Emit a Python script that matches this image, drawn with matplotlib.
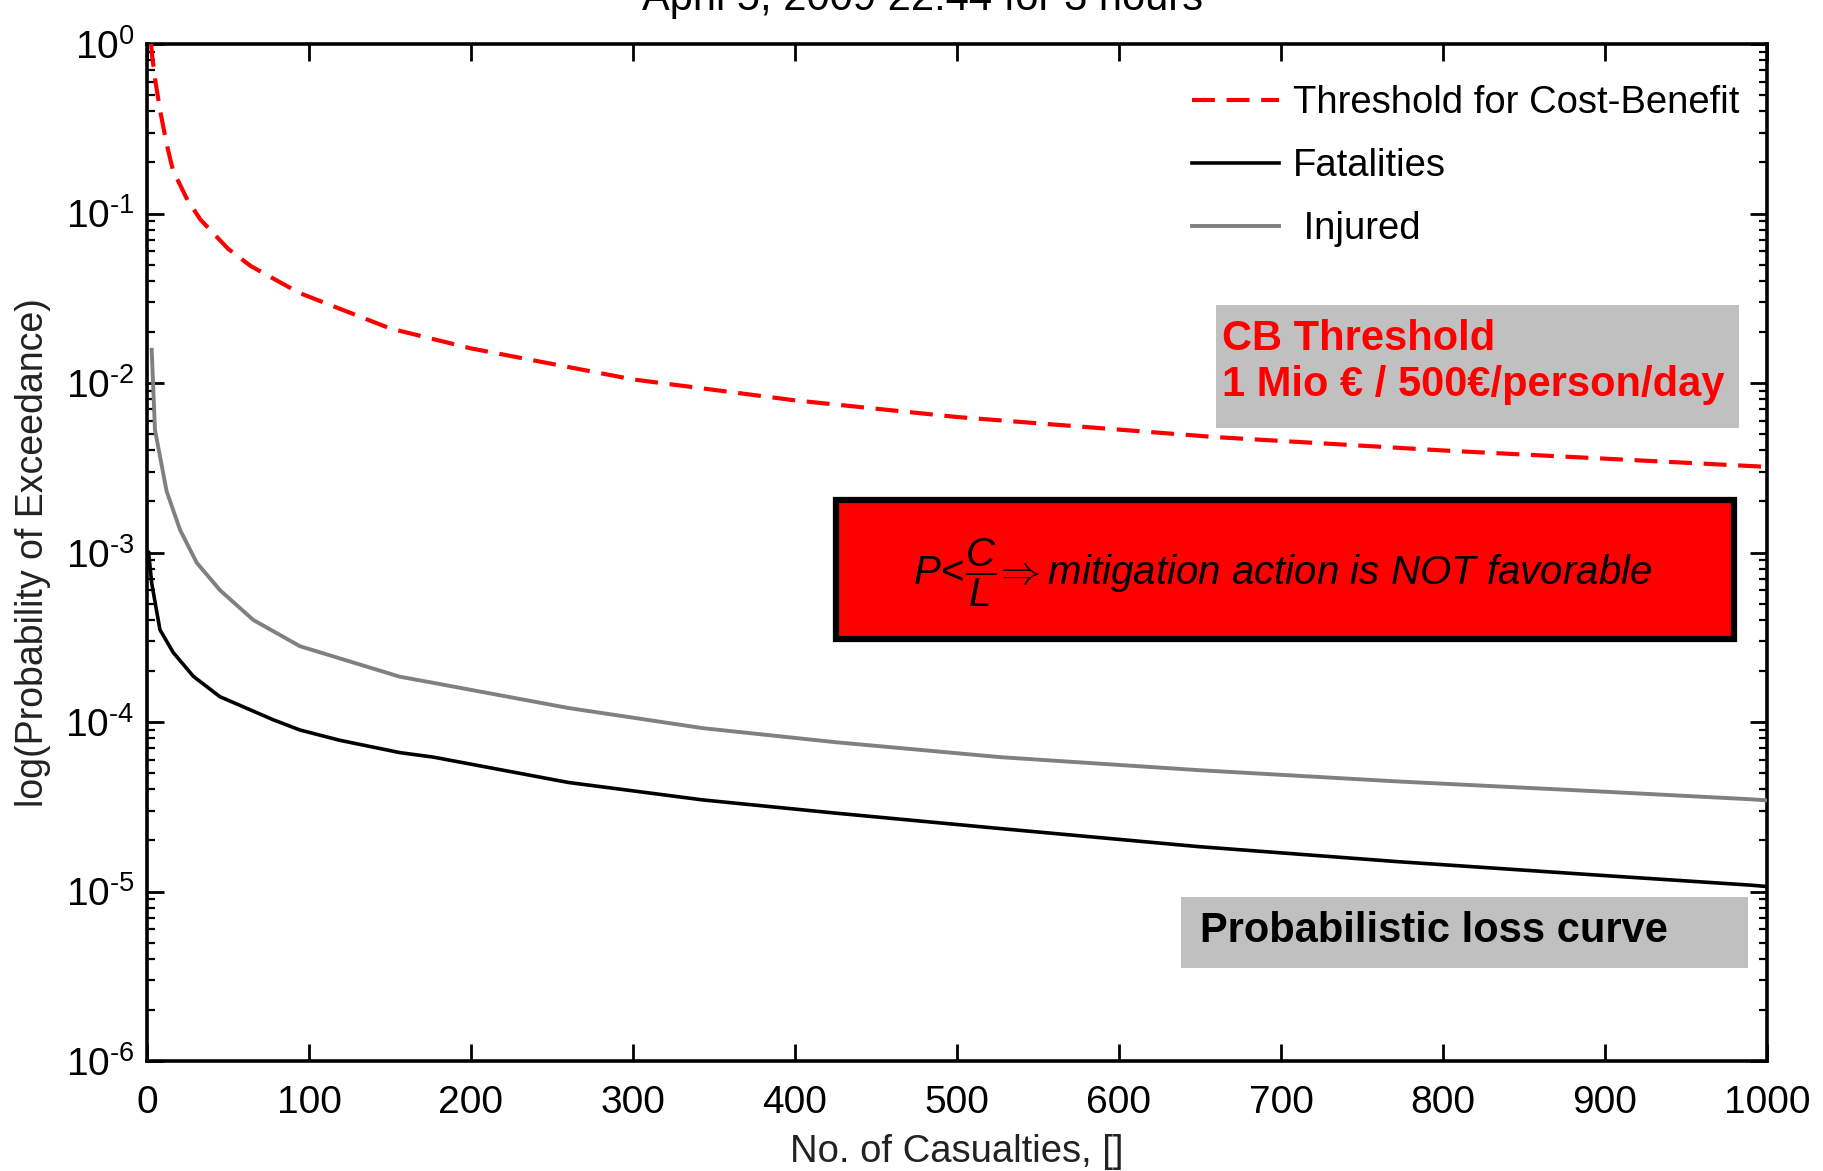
import matplotlib
matplotlib.use("Agg")
import matplotlib.pyplot as plt
from matplotlib.patches import Rectangle
from matplotlib.ticker import LogLocator, NullFormatter, FixedLocator, FuncFormatter
import math

plt.rcParams['font.family'] = ['Liberation Sans', 'DejaVu Sans']
plt.rcParams['mathtext.fontset'] = 'custom'
plt.rcParams['mathtext.rm'] = 'Liberation Sans'
plt.rcParams['mathtext.it'] = 'Liberation Sans:italic'
plt.rcParams['mathtext.bf'] = 'Liberation Sans:bold'

# ---- data ----
threshold_x = [2.5, 3, 5, 8, 12, 16, 25, 33, 50, 64, 94, 150, 200, 300, 400, 500, 659, 800, 1000]
threshold_y = [1.0, 0.88, 0.62, 0.41, 0.26, 0.18, 0.12, 0.092, 0.062, 0.049, 0.034, 0.021,
               0.016, 0.0105, 0.0079, 0.0063, 0.0048, 0.0040, 0.0032]

fatal_x = [1, 2.9, 8, 16.2, 28.6, 45, 78, 94.4, 119, 156, 177, 260, 343, 425, 527,
           649, 772, 895, 990, 1000]
fatal_y = [1.0e-3, 6.6e-4, 3.5e-4, 2.57e-4, 1.86e-4, 1.41e-4, 1.03e-4, 8.97e-5, 7.8e-5,
           6.6e-5, 6.2e-5, 4.4e-5, 3.47e-5, 2.9e-5, 2.35e-5, 1.84e-5, 1.5e-5, 1.25e-5,
           1.09e-5, 1.07e-5]

injured_x = [2.9, 4.9, 12.1, 20.4, 30.7, 45, 65.6, 94.4, 156, 177, 260, 343, 425, 527,
             649, 772, 895, 990, 1000]
injured_y = [0.0157, 5.3e-3, 2.3e-3, 1.36e-3, 8.7e-4, 6.0e-4, 4.0e-4, 2.8e-4, 1.85e-4,
             1.70e-4, 1.21e-4, 9.2e-5, 7.6e-5, 6.2e-5, 5.2e-5, 4.46e-5, 3.9e-5, 3.5e-5,
             3.45e-5]

x_ticks = [0, 100, 200, 300, 400, 500, 600, 700, 800, 900, 1000]

title_text = "April 5, 2009 22:44 for 3 hours"
legend_labels = ["Threshold for Cost-Benefit", "Fatalities", " Injured"]

# ---- figure ----
W, H = 1824, 1171
fig = plt.figure(figsize=(W / 100, H / 100), dpi=100)
L, R, T, B = 147, 1767, 44, 1061
ax = fig.add_axes([L / W, (H - B) / H, (R - L) / W, (B - T) / H])

ax.plot(threshold_x, threshold_y, color='#ff0000', lw=3.0, ls=(0, (5.5, 2.8)),
        label=legend_labels[0], zorder=3)
ax.plot(fatal_x, fatal_y, color='black', lw=2.6, label=legend_labels[1], zorder=3)
ax.plot(injured_x, injured_y, color='#808080', lw=2.8, label=legend_labels[2], zorder=3)

ax.set_yscale('log')
ax.set_xlim(0, 1000)
ax.set_ylim(1e-6, 1e0)
ax.xaxis.set_major_locator(FixedLocator(x_ticks))
ax.yaxis.set_major_locator(LogLocator(base=10, numticks=10))
ax.yaxis.set_minor_locator(LogLocator(base=10, subs=range(2, 10), numticks=20))
ax.yaxis.set_minor_formatter(NullFormatter())


def log_label(v, pos):
    e = int(round(math.log10(v)))
    s = str(e).replace('-', '\u2010')
    return r"$\mathdefault{10^{" + s + r"}}$"


ax.yaxis.set_major_formatter(FuncFormatter(log_label))

for s in ax.spines.values():
    s.set_linewidth(2.6)
ax.tick_params(which='major', direction='in', length=12, width=2.0, top=True, right=True,
               labelsize=28)
ax.tick_params(which='minor', direction='in', length=6, width=1.6, top=True, right=True)
ax.tick_params(axis='x', which='major', pad=17)
ax.tick_params(axis='y', which='major', pad=9)

ax.set_xlabel("No. of Casualties, []", fontsize=27.5, labelpad=10, color='#222222')
ax.set_ylabel("log(Probability of Exceedance)", fontsize=27, color='#222222')
ax.yaxis.set_label_coords(-0.059, 0.5)

fig.text(0.506, 1 - 10 / H, title_text, fontsize=30, ha='center', va='baseline')

leg = ax.legend(loc='upper right', bbox_to_anchor=(1.004, 0.993), frameon=False,
                fontsize=27.5, handlelength=2.3, handletextpad=0.35, labelspacing=0.7)


def fx(px):
    return (px - L) / (R - L)


def fy(py):
    return (B - py) / (B - T)


# CB threshold box
ax.add_patch(Rectangle((fx(1216), fy(428)), fx(1739) - fx(1216), fy(305) - fy(428),
                       transform=ax.transAxes, facecolor='#c0c0c0', edgecolor='none', zorder=4))
ax.text(fx(1222), fy(362), "CB Threshold\n1 Mio € / 500€/person/day", transform=ax.transAxes,
        color='#ff0000', fontsize=30, fontweight='bold', ha='left', va='center',
        linespacing=1.2, zorder=5)

# red box
ax.add_patch(Rectangle((fx(836), fy(639)), fx(1734) - fx(836), fy(500) - fy(639),
                       transform=ax.transAxes, facecolor='#ff0000', edgecolor='black',
                       linewidth=4.5, zorder=4))
ax.text(fx(1283), fy(573), r"$P\!<\!\dfrac{C}{L}\!\Rightarrow$mitigation action is NOT favorable",
        transform=ax.transAxes, color='black', fontsize=29, fontstyle='italic',
        ha='center', va='center', zorder=5)

# probabilistic loss curve box
ax.add_patch(Rectangle((fx(1181), fy(968)), fx(1748) - fx(1181), fy(897) - fy(968),
                       transform=ax.transAxes, facecolor='#c0c0c0', edgecolor='none', zorder=4))
ax.text(fx(1200), fy(931), "Probabilistic loss curve", transform=ax.transAxes,
        color='black', fontsize=30, fontweight='bold', ha='left', va='center', zorder=5)

fig.savefig("out.png", dpi=100)
